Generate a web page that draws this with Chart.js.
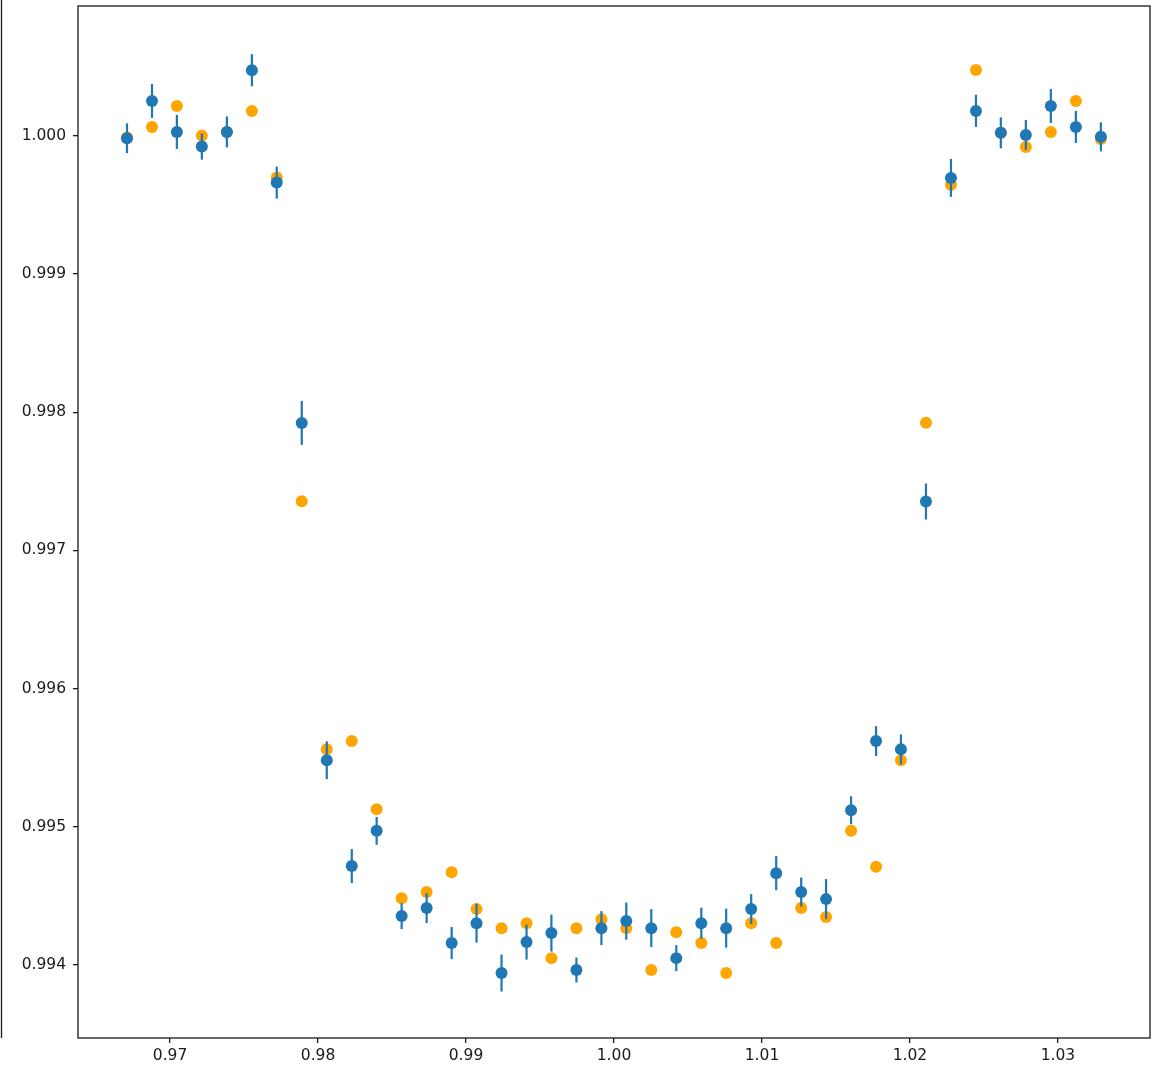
<!DOCTYPE html>
<html>
<head>
<meta charset="utf-8">
<script src="https://cdn.jsdelivr.net/npm/chart.js@4/dist/chart.umd.min.js"></script>
<style>
  html, body { margin: 0; padding: 0; background: #ffffff; }
  #wrap { width: 1166px; height: 1071px; position: relative; }
</style>
</head>
<body>
<div id="wrap"><canvas id="lc"></canvas></div>
<script>
// Orbital phase of each binned point
const phase = [
  0.96709, 0.96878, 0.97046, 0.97215, 0.97384, 0.97553, 0.97721, 0.97890,
  0.98059, 0.98228, 0.98396, 0.98565, 0.98734, 0.98903, 0.99071, 0.99240,
  0.99409, 0.99577, 0.99746, 0.99915, 1.00083, 1.00252, 1.00421, 1.00590,
  1.00758, 1.00927, 1.01096, 1.01265, 1.01433, 1.01602, 1.01771, 1.01939,
  1.02108, 1.02277, 1.02446, 1.02614, 1.02783, 1.02952, 1.03121, 1.03290
];

// Binned normalised flux (blue, with error bars)
const fluxBinned = [
  0.999983, 1.000253, 1.000029, 0.999923, 1.000029, 1.000475, 0.999662, 0.997923,
  0.995482, 0.994716, 0.994971, 0.994354, 0.994412, 0.994159, 0.994303, 0.993942,
  0.994166, 0.994231, 0.993964, 0.994267, 0.994318, 0.994267, 0.994050, 0.994303,
  0.994267, 0.994405, 0.994665, 0.994528, 0.994477, 0.995120, 0.995621, 0.995561,
  0.997354, 0.999696, 1.000181, 1.000022, 1.000007, 1.000217, 1.000065, 0.999993
];

// One-sigma uncertainty of each bin
const fluxErr = [
  0.000108, 0.000123, 0.000123, 0.000095, 0.000112, 0.000116, 0.000116, 0.000159,
  0.000137, 0.000123, 0.000101, 0.000094, 0.000108, 0.000116, 0.000141, 0.000134,
  0.000127, 0.000134, 0.000090, 0.000123, 0.000134, 0.000137, 0.000094, 0.000112,
  0.000141, 0.000108, 0.000123, 0.000105, 0.000145, 0.000101, 0.000108, 0.000108,
  0.000130, 0.000137, 0.000116, 0.000112, 0.000108, 0.000123, 0.000116, 0.000105
];

// Flux of the time-reversed bins (orange)
const fluxMirror = [
  0.999988, 1.000065, 1.000217, 1.000002, 1.000029, 1.000181, 0.999699, 0.997356,
  0.995561, 0.995621, 0.995128, 0.994484, 0.994528, 0.994672, 0.994405, 0.994267,
  0.994303, 0.994050, 0.994267, 0.994332, 0.994267, 0.993964, 0.994238, 0.994159,
  0.993942, 0.994303, 0.994159, 0.994412, 0.994347, 0.994971, 0.994711, 0.995482,
  0.997925, 0.999646, 1.000477, 1.000022, 0.999920, 1.000029, 1.000253, 0.999978
];

// Axis tick values
const xTickValues = [0.97, 0.98, 0.99, 1.00, 1.01, 1.02, 1.03];
const yTickValues = [0.994, 0.995, 0.996, 0.997, 0.998, 0.999, 1.000];

const blue = '#1f77b4';
const orange = '#ffa500';
const ink = '#1a1a1a';

const binnedPoints = phase.map((p, i) => ({ x: p, y: fluxBinned[i], e: fluxErr[i] }));
const mirrorPoints = phase.map((p, i) => ({ x: p, y: fluxMirror[i] }));

// Vertical error bars, drawn just before the blue markers so they sit above the orange ones
const errorBars = {
  id: 'errorBars',
  beforeDatasetDraw(chart, args) {
    if (args.index !== 0) return;
    const ctx = chart.ctx;
    const xs = chart.scales.x, ys = chart.scales.y;
    ctx.save();
    ctx.strokeStyle = blue;
    ctx.lineWidth = 2.2;
    ctx.lineCap = 'butt';
    chart.data.datasets[0].data.forEach(pt => {
      const px = xs.getPixelForValue(pt.x);
      ctx.beginPath();
      ctx.moveTo(px, ys.getPixelForValue(pt.y - pt.e));
      ctx.lineTo(px, ys.getPixelForValue(pt.y + pt.e));
      ctx.stroke();
    });
    ctx.restore();
  }
};

// Full box around the plot area plus the neighbouring panel edge on the far left
const frame = {
  id: 'frame',
  beforeDraw(chart) {
    const ctx = chart.ctx;
    ctx.save();
    ctx.fillStyle = '#ffffff';
    ctx.fillRect(0, 0, chart.width, chart.height);
    ctx.restore();
  },
  afterDraw(chart) {
    const a = chart.chartArea;
    const ctx = chart.ctx;
    ctx.save();
    ctx.strokeStyle = ink;
    ctx.lineWidth = 1.3;
    ctx.strokeRect(a.left, a.top, a.right - a.left, a.bottom - a.top);
    ctx.beginPath();
    ctx.moveTo(1.5, 0);
    ctx.lineTo(1.5, a.bottom);
    ctx.stroke();
    ctx.restore();
  }
};

const tickFont = { family: 'DejaVu Sans', size: 15.5 };

new Chart(document.getElementById('lc'), {
  type: 'scatter',
  data: {
    datasets: [
      {
        data: binnedPoints,
        backgroundColor: blue,
        borderColor: blue,
        borderWidth: 0,
        pointRadius: 6,
        pointHoverRadius: 6
      },
      {
        data: mirrorPoints,
        backgroundColor: orange,
        borderColor: orange,
        borderWidth: 0,
        pointRadius: 6,
        pointHoverRadius: 6
      }
    ]
  },
  options: {
    responsive: true,
    maintainAspectRatio: false,
    animation: false,
    layout: { padding: { left: 0, right: 16, top: 5, bottom: 0 } },
    plugins: { legend: { display: false }, tooltip: { enabled: false } },
    scales: {
      x: {
        type: 'linear',
        min: 0.96378,
        max: 1.03622,
        border: { display: false },
        grid: { drawOnChartArea: false, drawTicks: true, tickLength: 5, color: ink, lineWidth: 1.3 },
        afterBuildTicks(scale) { scale.ticks = xTickValues.map(v => ({ value: v })); },
        afterFit(scale) { scale.height = 33; scale.paddingLeft = 0; scale.paddingRight = 0; },
        ticks: {
          font: tickFont,
          color: ink,
          padding: 4,
          maxRotation: 0,
          autoSkip: false,
          callback: v => Number(v).toFixed(2)
        }
      },
      y: {
        type: 'linear',
        min: 0.993472,
        max: 1.00094,
        border: { display: false },
        grid: { drawOnChartArea: false, drawTicks: true, tickLength: 5, color: ink, lineWidth: 1.3 },
        afterBuildTicks(scale) { scale.ticks = yTickValues.map(v => ({ value: v })); },
        afterFit(scale) { scale.width = 78; scale.paddingTop = 0; scale.paddingBottom = 0; },
        ticks: {
          font: tickFont,
          color: ink,
          padding: 7,
          autoSkip: false,
          callback: v => Number(v).toFixed(3)
        }
      }
    }
  },
  plugins: [frame, errorBars]
});
</script>
</body>
</html>
